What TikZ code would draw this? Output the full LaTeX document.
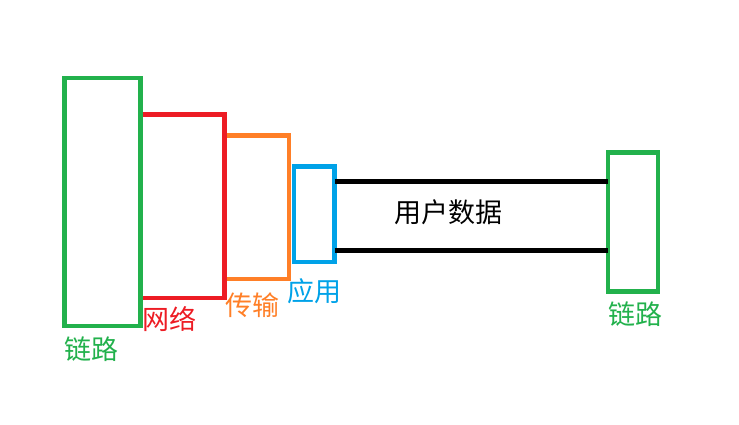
\documentclass[tikz,border=0pt]{standalone}
\usepackage{fontspec}
\newfontfamily\cjk{Noto Sans CJK SC}
\definecolor{pgreen}{HTML}{22B14C}
\definecolor{pred}{HTML}{ED1C24}
\definecolor{porange}{HTML}{FF7F27}
\definecolor{pblue}{HTML}{00A2E8}
\begin{document}
\begin{tikzpicture}[x=1pt,y=-1pt,
  layer/.style={line width=4.3pt},
  boxnode/.style={layer,draw,inner sep=0pt,outer sep=0pt},
  lbl/.style={font=\cjk\fontsize{27}{32}\selectfont,inner sep=0pt}]
\useasboundingbox (0,0) rectangle (739,424);
% link (left)
\node[boxnode,pgreen,minimum width=76pt,minimum height=248pt] (linkL) at (102.5,202) {};
% network (three sides)
\coordinate (netA) at (142.7,114.5);
\coordinate (netB) at (224.5,298);
\coordinate (netC) at (142.7,298);
\draw[layer,pred,line join=miter] (netA) -| (netB) -- (netC);
% transport (three sides)
\coordinate (trA) at (226.7,135.5);
\coordinate (trB) at (289.2,279.2);
\coordinate (trC) at (226.7,279.2);
\draw[layer,porange,line join=miter] (trA) -| (trB) -- (trC);
% application
\node[boxnode,pblue,minimum width=40.7pt,minimum height=95.7pt] (app) at (314.15,214.35) {};
% link (right)
\node[boxnode,pgreen,minimum width=49.6pt,minimum height=139pt] (linkR) at (633,222) {};
% user data lines
\draw[layer,black] (app.east |- 0,181.5) -- (linkR.west |- 0,181.5);
\draw[layer,black] (app.east |- 0,250.5) -- (linkR.west |- 0,250.5);
% labels
\node[lbl,black] (data) at (448,212) {用户数据};
\node[lbl,pgreen] (tLinkL) at (91.5,349) {链路};
\node[lbl,pred] (tNet) at (169.5,319) {网络};
\node[lbl,porange] (tTr) at (252.5,305) {传输};
\node[lbl,pblue] (tApp) at (314.5,291) {应用};
\node[lbl,pgreen] (tLinkR) at (635,314.5) {链路};
\end{tikzpicture}
\end{document}
